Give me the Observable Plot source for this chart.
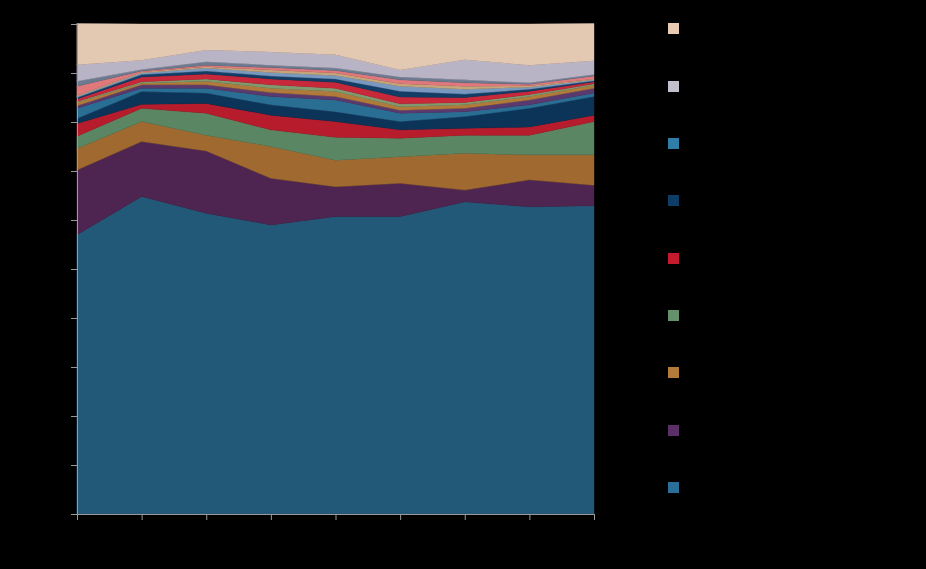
<!DOCTYPE html>
<html>
<head>
<meta charset="utf-8">
<script src="https://cdn.jsdelivr.net/npm/d3@7"></script>
<script src="https://cdn.jsdelivr.net/npm/@observablehq/plot@0.6"></script>
<style>
  html, body { margin: 0; padding: 0; background: #000; }
  #wrap { position: relative; width: 926px; height: 569px; background: #000; font-family: "Liberation Sans", Arial, sans-serif; }
  #chart { position: absolute; left: 0; top: 0; }
  .leg { position: absolute; left: 668px; display: flex; align-items: center; font-size: 12px; color: #000; }
  .leg span.sw { width: 11px; height: 11px; display: inline-block; margin-right: 8px; }
</style>
</head>
<body>
<div id="wrap"><div id="chart"></div></div>
<script>
// ---- data (percent share, stacked bottom -> top) ----
const years = [2014, 2015, 2016, 2017, 2018, 2019, 2020, 2021, 2022];
const yTicks = [0, 10, 20, 30, 40, 50, 60, 70, 80, 90, 100];

const seriesNames = [
  "Category A", "Category B", "Category C", "Category D", "Category E",
  "Category F", "Category G", "Category H", "Category I", "Category J",
  "Category K", "Category L", "Category M", "Category N", "Category O",
  "Category P", "Category Q", "Category R"
];
const seriesColors = [
  "#235978", "#4e2550", "#a0692f", "#5b8663", "#b61c2b",
  "#0c3358", "#2b6e94", "#5a3a6e", "#b07a3a", "#7f9a6e",
  "#c8283a", "#123d66", "#7898bf", "#c4a67a", "#e0787c",
  "#6c7a8f", "#b9b3c6", "#e3c8b2"
];

const sA = [57.0, 64.8, 61.4, 59.0, 60.7, 60.7, 63.7, 62.7, 62.9];
const sB = [13.2, 11.2, 12.7,  9.5,  6.1,  6.8,  2.4,  5.5,  4.2];
const sC = [ 4.4,  4.1,  3.2,  6.5,  5.4,  5.4,  7.5,  5.1,  6.2];
const sD = [ 2.5,  2.7,  4.5,  3.4,  4.7,  3.8,  3.7,  4.0,  6.8];
const sE = [ 2.6,  0.8,  2.0,  3.0,  3.2,  1.7,  1.4,  1.7,  1.3];
const sF = [ 1.0,  2.6,  2.1,  2.1,  2.0,  1.7,  2.4,  3.8,  3.8];
const sG = [ 2.1,  0.7,  1.0,  1.7,  2.4,  1.7,  1.0,  0.7,  0.7];
const sH = [ 0.5,  0.7,  0.7,  0.8,  0.7,  0.6,  0.7,  1.0,  1.0];
const sI = [ 0.7,  0.3,  0.7,  0.9,  1.0,  0.7,  0.7,  0.7,  0.6];
const sJ = [ 0.2,  0.3,  0.5,  0.7,  0.7,  0.6,  0.5,  0.4,  0.3];
const sK = [ 0.5,  1.0,  1.0,  1.2,  1.2,  1.4,  1.0,  0.7,  0.4];
const sL = [ 0.3,  0.5,  0.6,  0.6,  0.7,  1.2,  0.7,  0.4,  0.2];
const sM = [ 0.2,  0.3,  0.6,  0.7,  0.7,  1.0,  1.0,  0.4,  0.2];
const sN = [ 0.2,  0.2,  0.3,  0.5,  0.5,  0.5,  0.6,  0.3,  0.2];
const sO = [ 1.9,  0.2,  0.3,  0.5,  0.5,  0.8,  0.7,  0.3,  0.6];
const sP = [ 1.0,  0.3,  0.7,  0.5,  0.5,  0.6,  0.6,  0.3,  0.3];
const sQ = [ 3.4,  1.9,  2.4,  2.7,  2.7,  1.4,  4.1,  3.6,  2.8];
const sR = [ 8.4,  7.4,  5.3,  5.7,  6.3,  9.4,  7.3,  8.4,  7.6];

const seriesValues = [sA, sB, sC, sD, sE, sF, sG, sH, sI, sJ, sK, sL, sM, sN, sO, sP, sQ, sR];

// legend: top -> bottom
const legendIdx = [17, 16, 6, 5, 4, 3, 2, 1, 0];
const legendColors = ["#e8cbb2", "#c3bfcc", "#2f7ea8", "#0d3c66", "#c31b2c", "#64906b", "#b37a3a", "#5b3066", "#2a6f99"];

// ---- build long table ----
const rows = [];
seriesValues.forEach((vals, i) => {
  vals.forEach((v, j) => {
    rows.push({year: years[j], value: v, series: seriesNames[i], color: seriesColors[i]});
  });
});

const W = 926, H = 569;
const chart = Plot.plot({
  width: W,
  height: H,
  marginLeft: 77,
  marginRight: W - 594,
  marginTop: 24,
  marginBottom: H - 514,
  style: {background: "#000", color: "#000", fontFamily: "Liberation Sans, Arial, sans-serif", fontSize: "11px"},
  x: {domain: [years[0], years[years.length - 1]]},
  y: {domain: [0, 100]},
  marks: [
    Plot.areaY(rows, {
      x: "year", y: "value", z: "series", fill: "color",
      stroke: "color", strokeWidth: 0.4, order: null
    }),
    Plot.axisY({ticks: yTicks, tickSize: 6, stroke: "#9a9a9a", fill: "#000", tickFormat: d => d + "%", label: null}),
    Plot.axisX({ticks: years, tickSize: 6, stroke: "#9a9a9a", fill: "#000", tickFormat: d => String(d), label: null}),
    Plot.ruleX([years[0]], {stroke: "#9a9a9a"}),
    Plot.ruleY([0], {stroke: "#9a9a9a"})
  ]
});
document.getElementById("chart").appendChild(chart);

// ---- legend ----
const wrap = document.getElementById("wrap");
const legTops = [28, 86, 143, 200, 258, 315, 372, 430, 487];
legendIdx.forEach((idx, k) => {
  const div = document.createElement("div");
  div.className = "leg";
  div.style.top = (legTops[k] - 7) + "px";
  div.style.height = "14px";
  const sw = document.createElement("span");
  sw.className = "sw";
  sw.style.background = legendColors[k];
  const t = document.createElement("span");
  t.textContent = seriesNames[idx];
  div.appendChild(sw);
  div.appendChild(t);
  wrap.appendChild(div);
});
</script>
</body>
</html>
